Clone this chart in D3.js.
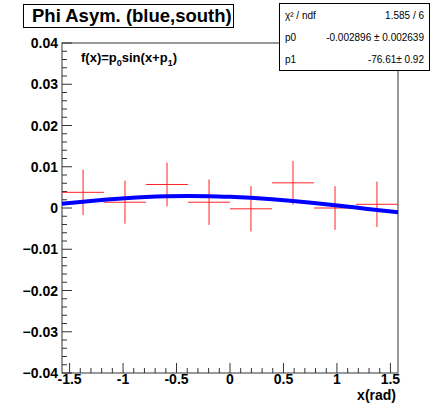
<!DOCTYPE html>
<html>
<head>
<meta charset="utf-8">
<script src="https://cdn.jsdelivr.net/npm/d3@7"></script>
<style>
body { margin: 0; background: #fff; }
text { font-family: "Liberation Sans", Arial, sans-serif; }
</style>
</head>
<body>
<div id="chart"></div>
<script>
var width = 431, height = 408;

// data points (bin centre, asymmetry, error)
var xs = [-1.374, -0.982, -0.589, -0.196, 0.196, 0.589, 0.982, 1.374];
var ys = [0.0038, 0.0014, 0.0057, 0.0014, -0.0002, 0.0061, 0.0000, 0.0009];
var yErr = [0.0055, 0.0052, 0.0053, 0.0055, 0.0055, 0.0053, 0.0053, 0.0055];
var xErr = 0.196;

// fitted curve
var fitX = [-1.571, -1.374, -1.178, -0.982, -0.785, -0.589, -0.393, -0.196, 0,
            0.196, 0.393, 0.589, 0.785, 0.982, 1.178, 1.374, 1.571];
var fitY = [0.00102, 0.00153, 0.00198, 0.00235, 0.00264, 0.00282, 0.00289, 0.00286, 0.00271,
            0.00246, 0.00212, 0.00169, 0.00120, 0.00066, 0.00010, -0.00047, -0.00102];

var xTicks = [-1.5, -1, -0.5, 0, 0.5, 1, 1.5];
var yTicks = [-0.04, -0.03, -0.02, -0.01, 0, 0.01, 0.02, 0.03, 0.04];
var statRows = [["\u03c7\u00b2 / ndf", "1.585 / 6"], ["p0", "-0.002896 \u00b1 0.002639"], ["p1", "-76.61\u00b1 0.92"]];

var fL = 62, fR = 398, fT = 43, fB = 373;

var svg = d3.select("#chart").append("svg")
    .attr("width", width).attr("height", height);

var xScale = d3.scaleLinear().domain([-Math.PI / 2, Math.PI / 2]).range([fL, fR]);
var yScale = d3.scaleLinear().domain([-0.04, 0.04]).range([fB, fT]);

// frame
svg.append("rect")
    .attr("x", fL).attr("y", fT)
    .attr("width", fR - fL).attr("height", fB - fT)
    .attr("fill", "none").attr("stroke", "#555").attr("stroke-width", 1.2);

// y axis ticks (inward)
var yMinor = d3.range(-20, 21, 1).map(function(d){ return d * 0.002; });
svg.append("g").selectAll("line").data(yMinor).enter().append("line")
    .attr("x1", fL).attr("x2", function(d, i){ return fL + (i % 5 == 0 ? 10 : 5); })
    .attr("y1", function(d){ return yScale(d); }).attr("y2", function(d){ return yScale(d); })
    .attr("stroke", "#333").attr("stroke-width", 1);

svg.append("g").selectAll("text").data(yTicks).enter().append("text")
    .attr("x", fL - 4).attr("y", function(d){ return yScale(d) + 5; })
    .attr("text-anchor", "end")
    .style("font-size", "14px").style("font-weight", "bold")
    .text(function(d){ return d == 0 ? "0" : d3.format(".2f")(d); });

// x axis ticks (pointing up)
var xMinor = d3.range(-15, 16, 1).map(function(d){ return d / 10; });
svg.append("g").selectAll("line").data(xMinor).enter().append("line")
    .attr("x1", function(d){ return xScale(d); }).attr("x2", function(d){ return xScale(d); })
    .attr("y1", fB).attr("y2", function(d, i){ return fB - (i % 5 == 0 ? 10 : 5); })
    .attr("stroke", "#333").attr("stroke-width", 1);

svg.append("g").selectAll("text").data(xTicks).enter().append("text")
    .attr("x", function(d){ return xScale(d); }).attr("y", fB + 11)
    .attr("text-anchor", "middle")
    .style("font-size", "14px").style("font-weight", "bold")
    .text(function(d){ return d; });

svg.append("text")
    .attr("x", 396).attr("y", 400)
    .attr("text-anchor", "end")
    .style("font-size", "14px").style("font-weight", "bold")
    .text("x(rad)");

// error bars
var pts = svg.append("g");
xs.forEach(function(x, i){
    pts.append("line")
        .attr("x1", xScale(x - xErr)).attr("x2", xScale(x + xErr))
        .attr("y1", yScale(ys[i])).attr("y2", yScale(ys[i]))
        .attr("stroke", "#f22").attr("stroke-width", 1);
    pts.append("line")
        .attr("x1", xScale(x)).attr("x2", xScale(x))
        .attr("y1", yScale(ys[i] - yErr[i])).attr("y2", yScale(ys[i] + yErr[i]))
        .attr("stroke", "#f22").attr("stroke-width", 1);
});

// fit curve
var line = d3.line()
    .x(function(d, i){ return xScale(fitX[i]); })
    .y(function(d){ return yScale(d); })
    .curve(d3.curveMonotoneX);
svg.append("path")
    .attr("d", line(fitY))
    .attr("fill", "none").attr("stroke", "#0000ff").attr("stroke-width", 4);

// function label
var fl = svg.append("text").attr("x", 81).attr("y", 62)
    .style("font-size", "13px").style("font-weight", "bold");
fl.append("tspan").text("f(x)=p");
fl.append("tspan").attr("dy", 4).style("font-size", "9px").text("0");
fl.append("tspan").attr("dy", -4).text("sin(x+p");
fl.append("tspan").attr("dy", 4).style("font-size", "9px").text("1");
fl.append("tspan").attr("dy", -4).text(")");

// title box
svg.append("rect")
    .attr("x", 23.5).attr("y", 4.5).attr("width", 210).attr("height", 23)
    .attr("fill", "#fff").attr("stroke", "#000").attr("stroke-width", 1);
svg.append("text")
    .attr("x", 32).attr("y", 22)
    .style("font-size", "18.5px").style("font-weight", "bold")
    .text("Phi Asym. (blue,south)");

// stats box
svg.append("rect")
    .attr("x", 279.5).attr("y", 3.5).attr("width", 150).attr("height", 67)
    .attr("fill", "#fff").attr("stroke", "#000").attr("stroke-width", 1);
statRows.forEach(function(r, i){
    svg.append("text").attr("x", 285).attr("y", 18.5 + i * 22)
        .style("font-size", "10px").text(r[0]);
    svg.append("text").attr("x", 424).attr("y", 18.5 + i * 22)
        .attr("text-anchor", "end")
        .style("font-size", "10px").text(r[1]);
});
</script>
</body>
</html>
